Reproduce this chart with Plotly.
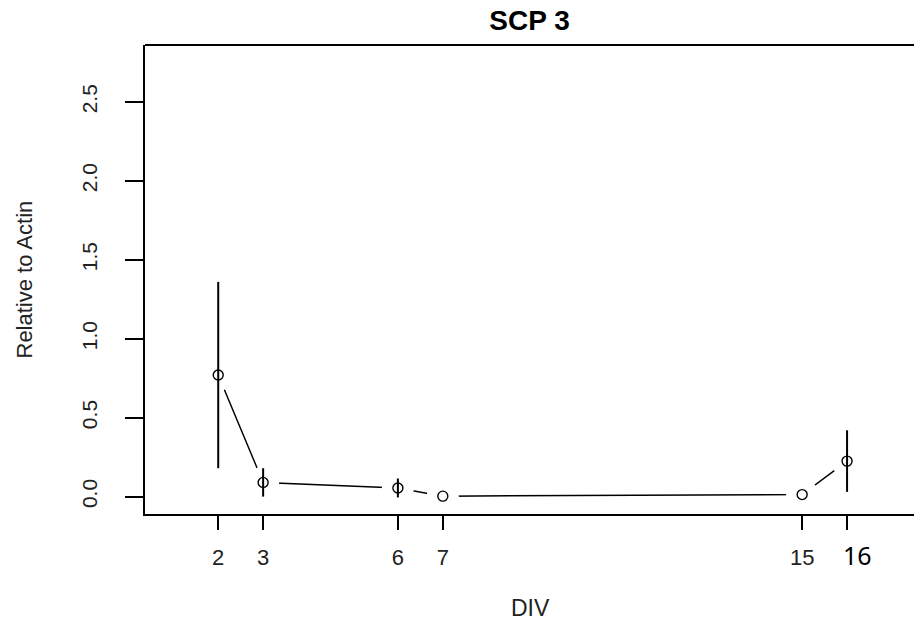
import plotly.graph_objects as go

# Data
div = [2, 3, 6, 7, 15, 16]
rel_actin = [0.77, 0.09, 0.055, 0.003, 0.013, 0.225]
err = [0.59, 0.09, 0.06, 0.0, 0.0, 0.195]
tick_vals = [2, 3, 6, 7, 15, 16]
tick_text = ["2", "3", "6", "7", "15", ""]
y_ticks = [0.0, 0.5, 1.0, 1.5, 2.0, 2.5]
y_tick_text = ["0.0", "0.5", "1.0", "1.5", "2.0", "2.5"]

FONT = "Liberation Sans, Arial, sans-serif"
TXT = "#222222"

fig = go.Figure()
# connecting line
fig.add_trace(go.Scatter(x=div, y=rel_actin, mode="lines",
                         line=dict(color="black", width=1.5),
                         hoverinfo="skip", showlegend=False))
# white masks to create R type="b" gaps around points
fig.add_trace(go.Scatter(x=div, y=rel_actin, mode="markers",
                         marker=dict(symbol="circle", size=32, color="white",
                                     line=dict(width=0)),
                         hoverinfo="skip", showlegend=False))
# points with error bars
fig.add_trace(go.Scatter(x=div, y=rel_actin, mode="markers",
                         marker=dict(symbol="circle-open", size=10, color="black",
                                     line=dict(width=1.4, color="black")),
                         error_y=dict(type="data", array=err, visible=True,
                                      color="black", thickness=2, width=0),
                         showlegend=False))

fig.update_layout(
    width=914, height=626,
    margin=dict(l=145, r=0, t=45, b=112),
    paper_bgcolor="white", plot_bgcolor="white",
    title=dict(text="<b>SCP 3</b>", x=0.5, xref="paper", xanchor="center",
               y=1 - 20 / 626, yref="container", yanchor="middle",
               font=dict(family=FONT, size=28, color="black")),
    font=dict(family=FONT, size=20, color=TXT),
)
fig.update_xaxes(range=[0.37, 17.49], showgrid=False, zeroline=False,
                 showline=True, linecolor="black", linewidth=2,
                 tickmode="array", tickvals=tick_vals, ticktext=tick_text,
                 ticks="outside", ticklen=14, tickwidth=2, tickcolor="black",
                 tickfont=dict(family=FONT, size=22, color=TXT),
                 ticklabelstandoff=9)
fig.update_yaxes(range=[-0.11, 2.86], showgrid=False, zeroline=False,
                 showline=True, linecolor="black", linewidth=2,
                 tickmode="array", tickvals=y_ticks, ticktext=y_tick_text,
                 ticks="outside", ticklen=18, tickwidth=2, tickcolor="black",
                 tickangle=-90,
                 tickfont=dict(family=FONT, size=21, color=TXT),
                 ticklabelstandoff=20)

# top border of the box
fig.add_shape(type="line", xref="paper", yref="paper", x0=0, x1=1, y0=1, y1=1,
              line=dict(color="black", width=2))

fig.add_annotation(text="DIV", xref="paper", yref="paper",
                   x=(530 - 145) / 769, y=(514 - 608) / 469,
                   xanchor="center", yanchor="middle", showarrow=False,
                   font=dict(family=FONT, size=23, color=TXT))
fig.add_annotation(text="Relative to Actin", xref="paper", yref="paper",
                   x=(24 - 145) / 769, y=0.5, textangle=-90,
                   xanchor="center", yanchor="middle", showarrow=False,
                   font=dict(family=FONT, size=22, color=TXT))
# the "16" label in a different font, as in the reference
fig.add_annotation(text="16", x=16, xref="x", yref="paper",
                   y=(514 - 555) / 469, xshift=10,
                   xanchor="center", yanchor="middle", showarrow=False,
                   font=dict(family="Noto Sans, sans-serif", size=25, color="black"))

fig.write_html("out.html")
